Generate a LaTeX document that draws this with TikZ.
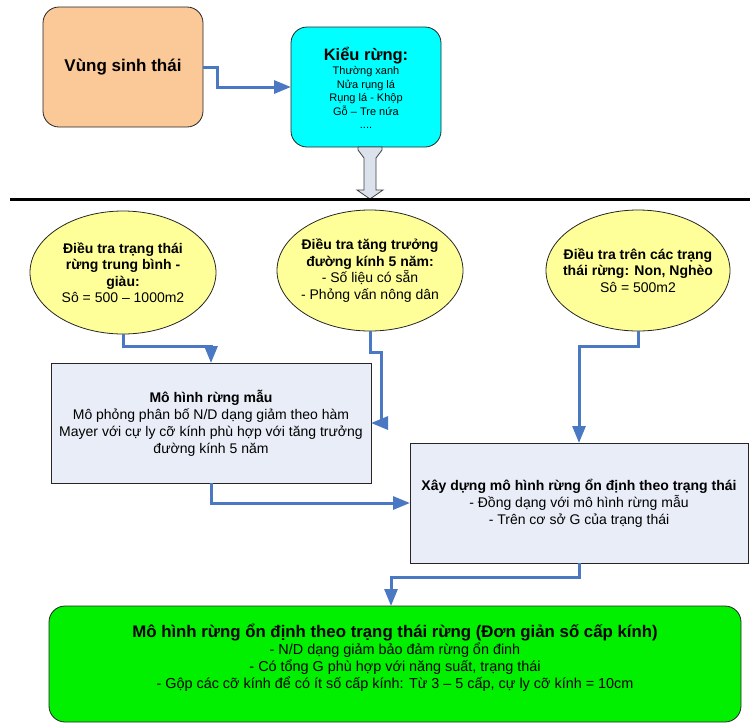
\documentclass[tikz,border=0pt]{standalone}
\usepackage{fontspec}
\setmainfont{Liberation Sans}
\usetikzlibrary{shapes.geometric,arrows.meta,calc}
\definecolor{orangef}{HTML}{FBC898}
\definecolor{cyanf}{HTML}{00FFFF}
\definecolor{yellowf}{HTML}{FFFF99}
\definecolor{boxf}{HTML}{E8EDF7}
\definecolor{greenf}{HTML}{00F000}
\definecolor{connc}{HTML}{4A78C2}
\definecolor{blockf}{HTML}{DCE2EC}
\begin{document}
\begin{tikzpicture}[x=1pt,y=-1pt,
  every node/.style={inner sep=0pt, outer sep=0pt},
  rbox/.style={draw=black!85, line width=0.8pt, rounded corners=16pt},
  sqbox/.style={draw=black!85, line width=0.8pt, fill=boxf},
  ell/.style={ellipse, draw=black!85, line width=0.8pt, fill=yellowf},
  conn/.style={draw=connc, line width=3pt, -{Triangle[length=17pt,width=13pt]}},
  etxt/.style={align=center, font=\fontsize{14}{16.5}\selectfont},
  btxt/.style={align=center, font=\fontsize{14}{17}\selectfont}
]
\useasboundingbox (0,0) rectangle (754,724);

% top row
\node[rbox, fill=orangef, minimum width=160pt, minimum height=120pt,
      font=\fontsize{17}{20}\selectfont\bfseries] (veg) at (123,67) {Vùng sinh thái};
\node[rbox, fill=cyanf, minimum width=150pt, minimum height=120pt] (typ) at (366,87) {};
\node[align=center, font=\fontsize{11}{13.5}\selectfont] (typt) at (366,88)
  {{\fontsize{16.5}{19}\selectfont\bfseries Kiểu rừng:}\\[1pt]
   Thường xanh\\ Nửa rụng lá\\ Rụng lá - Khộp\\ Gỗ – Tre nứa\\ ....};

% block arrow and separator line
\coordinate (ba) at (370,147);
\draw[draw=black!75, line width=0.8pt, fill=blockf]
  (ba) ++(-12,0) -- ++(24,0) -- ++(0,3) -- ++(-6,8) -- ++(0,32) -- ++(7,0)
  -- ++(-13,9) -- ++(-13,-9) -- ++(7,0) -- ++(0,-32) -- ++(-6,-8) -- cycle;
\coordinate (hl) at (10,199);
\coordinate (hr) at (750,199);
\draw[line width=3pt] (hl) -- (hr);

% ellipses
\node[ell, minimum width=186pt, minimum height=123pt] (e1) at (123,272.5) {};
\node[etxt] (e1t) at (e1.center)
  {\textbf{Điều tra trạng thái}\\ \textbf{rừng trung bình -}\\ \textbf{giàu:}\\ Sô = 500 – 1000m2};
\node[ell, minimum width=186pt, minimum height=121pt] (e2) at (370,270.5) {};
\node[etxt] (e2t) at (e2.center)
  {\textbf{Điều tra tăng trưởng}\\ \textbf{đường kính 5 năm:}\\ - Số liệu có sẵn\\ - Phỏng vấn nông dân};
\node[ell, minimum width=184pt, minimum height=121pt] (e3) at (638,270.5) {};
\node[etxt] (e3t) at (e3.center)
  {\textbf{Điều tra trên các trạng}\\ \textbf{thái rừng: Non, Nghèo}\\ Sô = 500m2};

% boxes
\node[sqbox, minimum width=320pt, minimum height=120pt] (b1) at (211,423) {};
\node[btxt] (b1t) at (b1.center)
  {\textbf{Mô hình rừng mẫu}\\ Mô phỏng phân bố N/D dạng giảm theo hàm\\
   Mayer với cự ly cỡ kính phù hợp với tăng trưởng\\ đường kính 5 năm};
\node[sqbox, minimum width=338pt, minimum height=120pt] (b2) at (579,503) {};
\node[btxt] (b2t) at (b2.center)
  {\textbf{Xây dựng mô hình rừng ổn định theo trạng thái}\\
   - Đồng dạng với mô hình rừng mẫu\\ - Trên cơ sở G của trạng thái};

% final green box
\node[rbox, fill=greenf, minimum width=692pt, minimum height=116pt] (fin) at (395,664) {};
\node[align=center, font=\fontsize{14.4}{17}\selectfont] (fint) at (395,658)
  {{\fontsize{16.8}{17}\selectfont\bfseries Mô hình rừng ổn định theo trạng thái rừng (Đơn giản số cấp kính)}\\
   - N/D dạng giảm bảo đảm rừng ổn đinh\\
   - Có tổng G phù hợp với năng suất, trạng thái\\
   - Gộp các cỡ kính để có ít số cấp kính: Từ 3 – 5 cấp, cự ly cỡ kính = 10cm};

% connectors
\draw[conn] (veg.east) -- ++(14,0) |- (typ.west);
\draw[conn] (e1.south) -- ++(0,12) -| (b1.north);
\draw[conn] (e2.south) -- ++(0,21) -- ++(11,0) |- (b1.east);
\draw[conn] (e3.south) -- ++(0,15) -| (b2.north);
\draw[conn] (b1.south) |- (b2.west);
\draw[conn] (b2.south) -- ++(0,14) -| ($(fin.north)+(-4,0)$);
\end{tikzpicture}
\end{document}
